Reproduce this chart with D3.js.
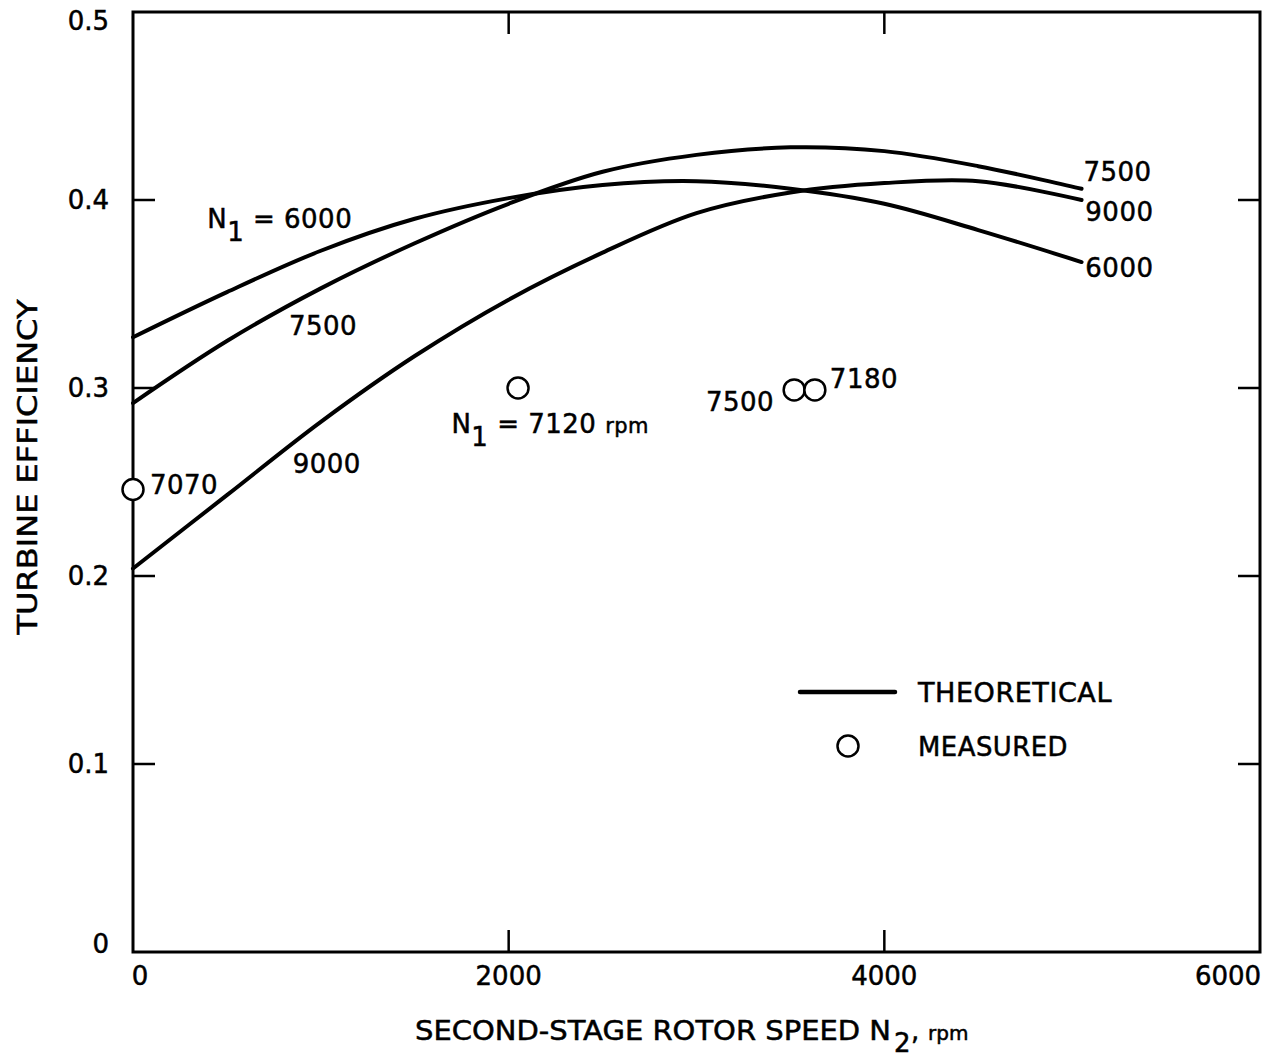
<!DOCTYPE html>
<html>
<head>
<meta charset="utf-8">
<script src="https://cdn.jsdelivr.net/npm/d3@7"></script>
<style>
  body { margin: 0; background: #fff; }
  text { font-family: "DejaVu Sans", sans-serif; fill: #000; stroke: #000; stroke-width: 0.5px; }
</style>
</head>
<body>
<div id="chart"></div>
<script>
// chart data
const speedN2 = [0, 500, 1000, 1500, 2000, 2500, 3000, 3500, 4000, 4500, 5050];
const eff6000 = [0.327, 0.351, 0.373, 0.390, 0.401, 0.408, 0.410, 0.406, 0.398, 0.384, 0.367];
const eff7500 = [0.292, 0.325, 0.353, 0.377, 0.398, 0.415, 0.424, 0.428, 0.426, 0.418, 0.406];
const eff9000 = [0.204, 0.243, 0.282, 0.317, 0.347, 0.372, 0.393, 0.404, 0.409, 0.410, 0.400];

const measuredN2 = [0, 2050, 3520, 3630];
const measuredEff = [0.246, 0.300, 0.299, 0.299];

const xTicks = [0, 2000, 4000, 6000];
const yTicks = [0, 0.1, 0.2, 0.3, 0.4, 0.5];

const width = 1275;
const height = 1059;
const margin = {top: 12, right: 15, bottom: 107, left: 133};

const svg = d3.select("#chart")
    .append("svg")
    .attr("width", width)
    .attr("height", height);

const x = d3.scaleLinear().domain([0, 6000]).range([margin.left, width - margin.right]);
const y = d3.scaleLinear().domain([0, 0.5]).range([height - margin.bottom, margin.top]);

// frame
svg.append("rect")
    .attr("x", x(0)).attr("y", y(0.5))
    .attr("width", x(6000) - x(0)).attr("height", y(0) - y(0.5))
    .attr("fill", "none").attr("stroke", "#000").attr("stroke-width", 3);

// inner ticks on all four sides
const tickLen = 22;
const innerX = xTicks.filter(d => d > 0 && d < 6000);
const innerY = yTicks.filter(d => d > 0 && d < 0.5);
svg.selectAll(".xtb").data(innerX).enter().append("line")
    .attr("x1", d => x(d)).attr("x2", d => x(d))
    .attr("y1", y(0)).attr("y2", y(0) - tickLen)
    .attr("stroke", "#000").attr("stroke-width", 2.5);
svg.selectAll(".xtt").data(innerX).enter().append("line")
    .attr("x1", d => x(d)).attr("x2", d => x(d))
    .attr("y1", y(0.5)).attr("y2", y(0.5) + tickLen)
    .attr("stroke", "#000").attr("stroke-width", 2.5);
svg.selectAll(".ytl").data(innerY).enter().append("line")
    .attr("x1", x(0)).attr("x2", x(0) + tickLen)
    .attr("y1", d => y(d)).attr("y2", d => y(d))
    .attr("stroke", "#000").attr("stroke-width", 2.5);
svg.selectAll(".ytr").data(innerY).enter().append("line")
    .attr("x1", x(6000)).attr("x2", x(6000) - tickLen)
    .attr("y1", d => y(d)).attr("y2", d => y(d))
    .attr("stroke", "#000").attr("stroke-width", 2.5);

// tick labels
svg.selectAll(".xl").data(xTicks).enter().append("text")
    .attr("x", d => d === 0 ? x(d) + 7 : (d === 6000 ? x(d) - 32 : x(d)))
    .attr("y", y(0) + 33)
    .attr("text-anchor", "middle")
    .attr("font-size", 26)
    .text(d => d);
svg.selectAll(".yl").data(yTicks).enter().append("text")
    .attr("x", x(0) - 24)
    .attr("y", d => y(d) + (d === 0.5 ? 18 : (d === 0 ? 1 : 9)))
    .attr("text-anchor", "end")
    .attr("font-size", 26)
    .text(d => d === 0 ? "0" : d.toFixed(1));

// axis titles
svg.append("text")
    .attr("transform", `translate(37,${(y(0) + y(0.5)) / 2 - 15}) rotate(-90)`)
    .attr("text-anchor", "middle")
    .attr("font-size", 26)
    .attr("textLength", 335)
    .attr("lengthAdjust", "spacingAndGlyphs")
    .text("TURBINE EFFICIENCY");

svg.append("text")
    .attr("x", 415).attr("y", 1040)
    .attr("font-size", 26)
    .attr("textLength", 476)
    .attr("lengthAdjust", "spacingAndGlyphs")
    .text("SECOND-STAGE ROTOR SPEED N");
svg.append("text").attr("x", 894).attr("y", 1052).attr("font-size", 26).text("2");
svg.append("text").attr("x", 911).attr("y", 1040).attr("font-size", 26).text(",");
svg.append("text").attr("x", 928).attr("y", 1040).attr("font-size", 20).text("rpm");

// theoretical curves
const line = d3.line()
    .x((d, i) => x(speedN2[i]))
    .y(d => y(d))
    .curve(d3.curveCatmullRom.alpha(0.5));

[eff6000, eff7500, eff9000].forEach(s => {
    svg.append("path")
        .attr("d", line(s))
        .attr("fill", "none")
        .attr("stroke", "#000")
        .attr("stroke-width", 4)
        .attr("stroke-linecap", "round");
});

// measured points
svg.selectAll(".pt").data(measuredN2).enter().append("circle")
    .attr("cx", d => x(d))
    .attr("cy", (d, i) => y(measuredEff[i]))
    .attr("r", 10.5)
    .attr("fill", "#fff")
    .attr("stroke", "#000")
    .attr("stroke-width", 2.5);

// annotations
function label(px, py, txt, size) {
    return svg.append("text").attr("x", px).attr("y", py)
        .attr("font-size", size || 26)
        .attr("letter-spacing", 0.5)
        .text(txt);
}
function subLabel(px, py, pre, sub, post, tail) {
    const t = svg.append("text").attr("x", px).attr("y", py)
        .attr("font-size", 26).attr("letter-spacing", 0.5);
    t.append("tspan").text(pre);
    t.append("tspan").attr("dy", 13).text(sub);
    t.append("tspan").attr("dy", -13).text(post);
    if (tail) t.append("tspan").attr("font-size", 21).text(tail);
    return t;
}
subLabel(x(395), y(0.385), "N", "1", " = 6000");
label(x(830), y(0.328), "7500");
label(x(850), y(0.2548), "9000");
label(x(90), y(0.2436), "7070");
subLabel(x(1695), y(0.276), "N", "1", " = 7120 ", "rpm");
label(x(3050), y(0.288), "7500");
label(x(3710), y(0.300), "7180");
label(x(5060), y(0.410), "7500");
label(x(5070), y(0.389), "9000");
label(x(5070), y(0.359), "6000");

// legend
svg.append("line")
    .attr("x1", 800).attr("x2", 895)
    .attr("y1", 692).attr("y2", 692)
    .attr("stroke", "#000").attr("stroke-width", 4.5)
    .attr("stroke-linecap", "round");
label(918, 702, "THEORETICAL").attr("textLength", 194).attr("lengthAdjust", "spacingAndGlyphs");
svg.append("circle")
    .attr("cx", 848).attr("cy", 746).attr("r", 10.5)
    .attr("fill", "#fff").attr("stroke", "#000").attr("stroke-width", 2.5);
label(918, 756, "MEASURED").attr("textLength", 150).attr("lengthAdjust", "spacingAndGlyphs");
</script>
</body>
</html>
